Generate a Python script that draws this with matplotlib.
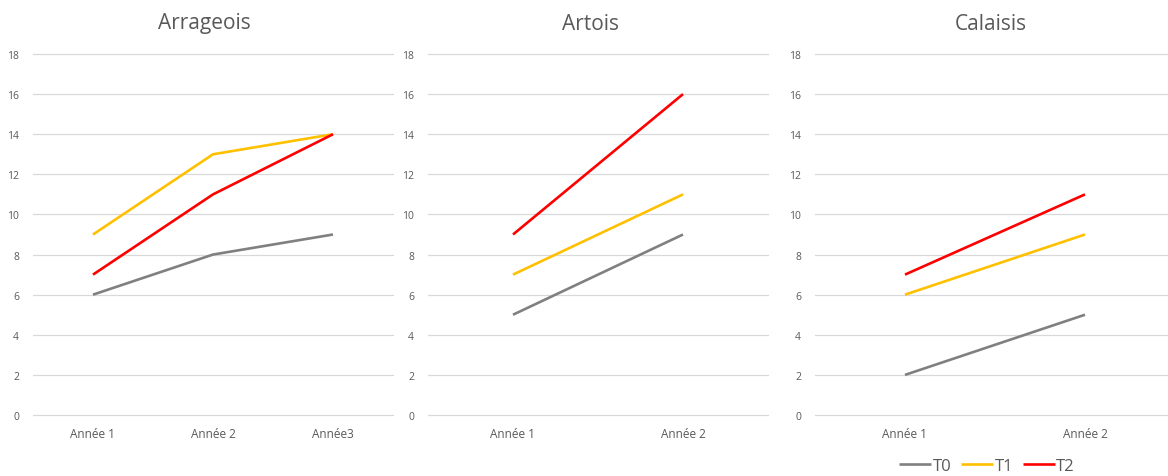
import matplotlib
matplotlib.use("Agg")
import matplotlib.pyplot as plt

plt.rcParams['font.family'] = ['Open Sans', 'DejaVu Sans']

series_names = ["T0", "T1", "T2"]
series_colors = ["#808080", "#FFC000", "#FF0000"]

arrageois_cats = ["Année 1", "Année 2", "Année3"]
arrageois_t0 = [6, 8, 9]
arrageois_t1 = [9, 13, 14]
arrageois_t2 = [7, 11, 14]

artois_cats = ["Année 1", "Année 2"]
artois_t0 = [5, 9]
artois_t1 = [7, 11]
artois_t2 = [9, 16]

calaisis_cats = ["Année 1", "Année 2"]
calaisis_t0 = [2, 5]
calaisis_t1 = [6, 9]
calaisis_t2 = [7, 11]

y_ticks = [0, 2, 4, 6, 8, 10, 12, 14, 16, 18]

W, H = 1168, 477
fig = plt.figure(figsize=(W / 100, H / 100), dpi=100)

# (title, categories, series, axis left px, axis right px, title centre px)
panels = [
    ("Arrageois", arrageois_cats, [arrageois_t0, arrageois_t1, arrageois_t2], 33, 393, 204),
    ("Artois", artois_cats, [artois_t0, artois_t1, artois_t2], 428, 768, 590),
    ("Calaisis", calaisis_cats, [calaisis_t0, calaisis_t1, calaisis_t2], 815, 1175, 991),
]

y_bottom_px, y_top_px = 416, 55
handles = []
for title, cats, values, x0, x1, tx in panels:
    ax = fig.add_axes([x0 / W, 1 - y_bottom_px / H, (x1 - x0) / W, (y_bottom_px - y_top_px) / H])
    n = len(cats)
    xs = list(range(n))
    handles = []
    for name, color, vals in zip(series_names, series_colors, values):
        h, = ax.plot(xs, vals, color=color, lw=1.9, solid_capstyle='butt', label=name, zorder=3)
        handles.append(h)
    ax.set_xlim(-0.5, n - 0.5)
    ax.set_ylim(0, 18)
    ax.set_yticks(y_ticks)
    ax.set_xticks(xs)
    ax.set_xticklabels(cats)
    for yv in y_ticks:
        ax.axhline(yv, color='#d9d9d9', lw=0.9, zorder=0, clip_on=False)
    for s in ax.spines.values():
        s.set_visible(False)
    ax.tick_params(axis='both', length=0, colors='#595959')
    ax.tick_params(axis='y', pad=10, labelsize=7.5)
    ax.tick_params(axis='x', pad=9, labelsize=8.5)
    fig.text(tx / W, 1 - 24 / H, title, fontsize=15, color='#595959', ha='center', va='center')

fig.legend(handles, series_names, loc='center', bbox_to_anchor=(987 / W, 1 - 467 / H),
           ncol=3, frameon=False, fontsize=12, handlelength=1.9, handletextpad=0.1,
           columnspacing=0.6, labelcolor='#595959')

fig.savefig("out.png", dpi=100)
